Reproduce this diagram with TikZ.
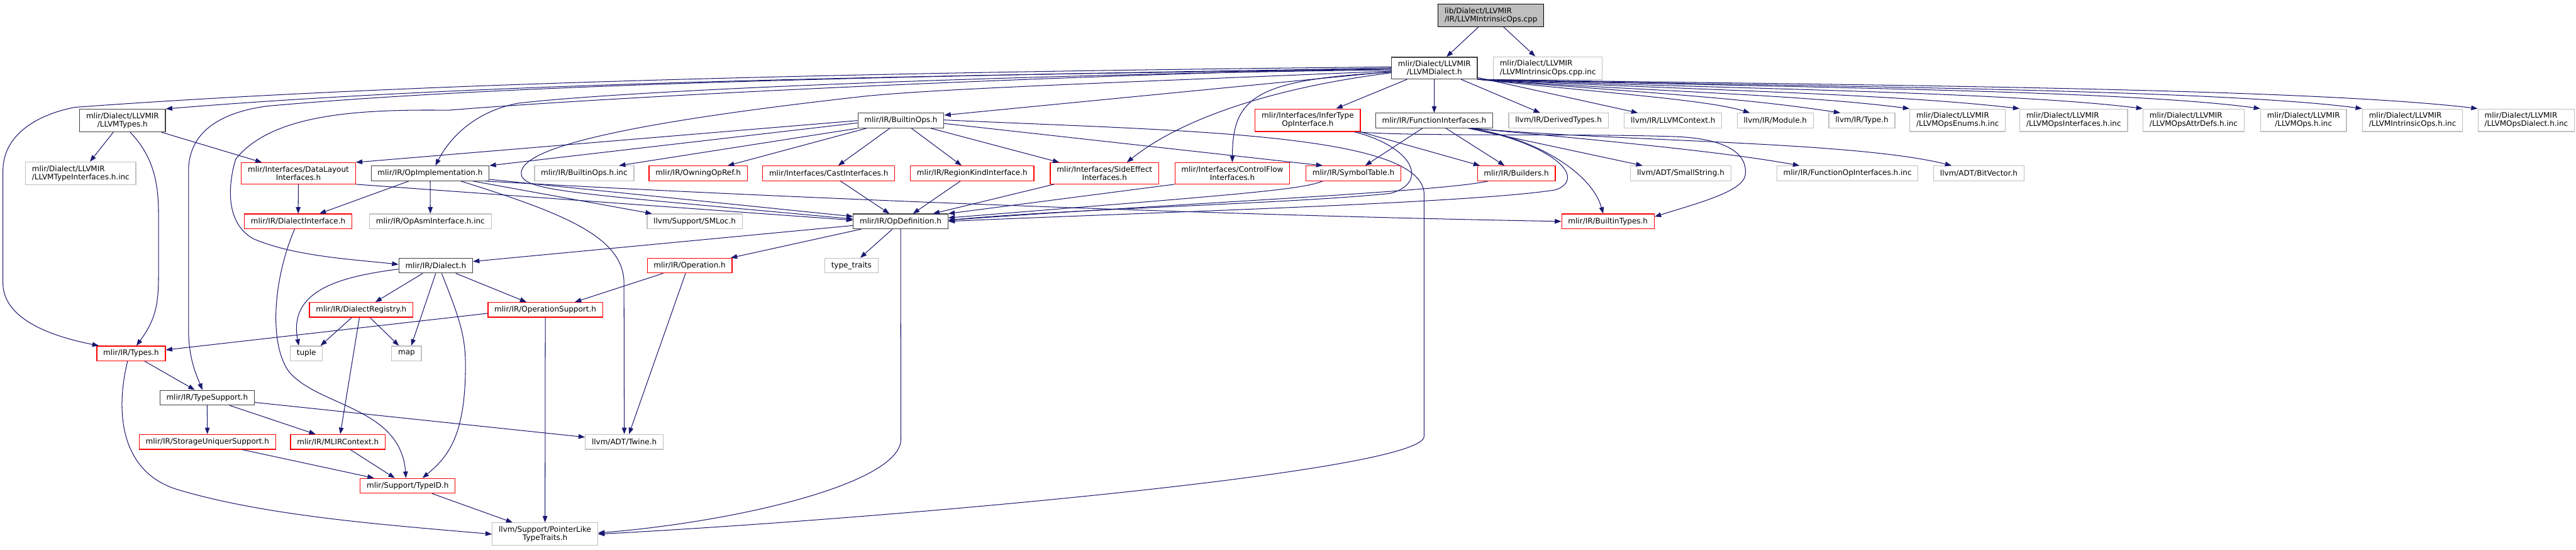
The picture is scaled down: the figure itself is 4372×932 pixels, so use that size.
\documentclass[tikz,border=0pt]{standalone}
\usepackage{fontspec}
\setmainfont{DejaVu Sans}
\usepackage{xcolor}
\usepackage{tikz}
\usetikzlibrary{arrows.meta}
\definecolor{midnight}{HTML}{191970}
\definecolor{grey25}{HTML}{404040}
\definecolor{grey75}{HTML}{BFBFBF}

\begin{document}
\begin{tikzpicture}[
    x=1pt,
    y=1pt,
    file/.style={rectangle, draw, fill=white, inner xsep=11pt, inner ysep=6pt,
                 minimum height=25pt, align=center, line width=1.3pt,
                 font=\fontsize{12.8}{14}\selectfont},
    hdr/.style={file, draw=grey25},
    leaf/.style={file, draw=grey75},
    trunc/.style={file, draw=red},
    root/.style={file, draw=black, fill=grey75},
    incl/.style={-{Triangle[length=11pt, width=8pt]}, line width=1.1pt,
                 color=midnight},
]
\useasboundingbox (0,0) rectangle (4372,-932);
\fill[white] (0,0) rectangle (4372,-932);

% files
\node[root, align=left] (top)     at (2530.5,-26)  {lib/Dialect/LLVMIR\\/IR/LLVMIntrinsicOps.cpp};
\node[hdr]              (dial)    at (2434.5,-115.5) {mlir/Dialect/LLVMIR\\/LLVMDialect.h};
\node[leaf, align=left] (cppinc)  at (2627,-115.5) {mlir/Dialect/LLVMIR\\/LLVMIntrinsicOps.cpp.inc};

\node[hdr]              (ltypes)  at (208,-204.5)  {mlir/Dialect/LLVMIR\\/LLVMTypes.h};
\node[hdr]              (bops)    at (1529,-204.5) {mlir/IR/BuiltinOps.h};
\node[trunc]            (infer)   at (2219.5,-204) {mlir/Interfaces/InferType\\OpInterface.h};
\node[hdr]              (funcif)  at (2434,-204.5) {mlir/IR/FunctionInterfaces.h};
\node[leaf]             (derived) at (2645,-204.5) {llvm/IR/DerivedTypes.h};
\node[leaf]             (llctx)   at (2839.5,-204.5) {llvm/IR/LLVMContext.h};
\node[leaf]             (module)  at (3013,-204.5) {llvm/IR/Module.h};
\node[leaf]             (type)    at (3160,-204.5) {llvm/IR/Type.h};
\node[leaf, align=left] (enums)   at (3322.5,-204) {mlir/Dialect/LLVMIR\\/LLVMOpsEnums.h.inc};
\node[leaf, align=left] (opsif)   at (3519.5,-204) {mlir/Dialect/LLVMIR\\/LLVMOpsInterfaces.h.inc};
\node[leaf, align=left] (attrdefs) at (3723,-204)  {mlir/Dialect/LLVMIR\\/LLVMOpsAttrDefs.h.inc};
\node[leaf]             (opsinc)  at (3909.5,-204) {mlir/Dialect/LLVMIR\\/LLVMOps.h.inc};
\node[leaf, align=left] (intrinc) at (4094.5,-204) {mlir/Dialect/LLVMIR\\/LLVMIntrinsicOps.h.inc};
\node[leaf, align=left] (dialinc) at (4287.5,-204) {mlir/Dialect/LLVMIR\\/LLVMOpsDialect.h.inc};

\node[leaf, align=left] (ltyinc)  at (137,-294)    {mlir/Dialect/LLVMIR\\/LLVMTypeInterfaces.h.inc};
\node[trunc]            (dlayout) at (506.5,-294)  {mlir/Interfaces/DataLayout\\Interfaces.h};
\node[hdr]              (opimpl)  at (730,-294)    {mlir/IR/OpImplementation.h};
\node[leaf]             (bopsinc) at (991.5,-294)  {mlir/IR/BuiltinOps.h.inc};
\node[trunc]            (owning)  at (1185,-294)   {mlir/IR/OwningOpRef.h};
\node[trunc]            (cast)    at (1406.5,-294) {mlir/Interfaces/CastInterfaces.h};
\node[trunc]            (region)  at (1650,-294)   {mlir/IR/RegionKindInterface.h};
\node[trunc]            (sideeff) at (1874.5,-294) {mlir/Interfaces/SideEffect\\Interfaces.h};
\node[trunc]            (ctrlflow) at (2091.5,-294) {mlir/Interfaces/ControlFlow\\Interfaces.h};
\node[trunc]            (symtab)  at (2297,-294)   {mlir/IR/SymbolTable.h};
\node[trunc]            (builders) at (2573.5,-294) {mlir/IR/Builders.h};
\node[leaf]             (smallstr) at (2852.5,-294) {llvm/ADT/SmallString.h};
\node[leaf]             (funcopinc) at (3135.5,-294) {mlir/IR/FunctionOpInterfaces.h.inc};
\node[leaf]             (bitvec)  at (3358.5,-294) {llvm/ADT/BitVector.h};

\node[trunc]            (diaif)   at (506,-375.5)  {mlir/IR/DialectInterface.h};
\node[leaf]             (opasm)   at (730.5,-375.5) {mlir/IR/OpAsmInterface.h.inc};
\node[leaf]             (smloc)   at (1179,-375.5) {llvm/Support/SMLoc.h};
\node[hdr]              (opdef)   at (1528.5,-375.5) {mlir/IR/OpDefinition.h};
\node[trunc]            (btypes)  at (2729,-375.5) {mlir/IR/BuiltinTypes.h};

\node[hdr]              (dialect) at (739.5,-450.5) {mlir/IR/Dialect.h};
\node[trunc]            (operation) at (1170.5,-450.5) {mlir/IR/Operation.h};
\node[leaf]             (ttraits) at (1445,-450.5) {type\_traits};

\node[trunc]            (registry) at (613,-525.5) {mlir/IR/DialectRegistry.h};
\node[trunc]            (opsupp)  at (925.5,-525.5) {mlir/IR/OperationSupport.h};
\node[trunc]            (types)   at (222.5,-599.5) {mlir/IR/Types.h};
\node[leaf]             (tuple)   at (520,-599.5)  {tuple};
\node[leaf]             (map)     at (690,-599.5)  {map};
\node[hdr]              (tsupp)   at (351.5,-674.5) {mlir/IR/TypeSupport.h};
\node[trunc]            (storage) at (352,-749.5)  {mlir/IR/StorageUniquerSupport.h};
\node[trunc]            (mlirctx) at (573.5,-749.5) {mlir/IR/MLIRContext.h};
\node[leaf]             (twine)   at (1059.5,-749.5) {llvm/ADT/Twine.h};
\node[trunc]            (typeid)  at (692,-824)    {mlir/Support/TypeID.h};
\node[leaf]             (ptrlike) at (925,-906)    {llvm/Support/PointerLike\\TypeTraits.h};

% root
\draw[incl] (top) -- (dial);
\draw[incl] (top) -- (cppinc);

% LLVMDialect.h, leftwards
\draw[incl] ([yshift=-2pt]dial.west) .. controls (1500,-128) and (800,-142) .. (ltypes.north east);
\draw[incl] ([yshift=2pt]dial.west) .. controls (1500,-122) and (700,-140) .. (127,-182)
    .. controls (60,-195) and (5,-230) .. (5,-290) -- (5,-480)
    .. controls (5,-530) and (60,-565) .. ([xshift=4pt]types.north west);
\draw[incl] (dial.west) .. controls (1600,-128) and (900,-140) .. (453,-180)
    .. controls (380,-190) and (320,-220) .. (320,-290) -- (320,-560)
    .. controls (320,-610) and (335,-640) .. ([xshift=-8pt]tsupp.north);
\draw[incl] (dial.west) .. controls (1800,-128) and (1100,-160) .. (760,-187)
    .. controls (600,-185) and (460,-195) .. (400,-270)
    .. controls (385,-320) and (385,-380) .. (430,-405)
    .. controls (500,-435) and (600,-440) .. ([yshift=2pt]dialect.west);
\draw[incl] ([yshift=-3pt]dial.west) .. controls (1800,-125) and (1100,-150) .. (880,-175)
    .. controls (800,-190) and (760,-240) .. ([xshift=9pt]opimpl.north);
\draw[incl] ([yshift=-5pt]dial.west) .. controls (1900,-140) and (1600,-150) .. (1470,-163)
    .. controls (1000,-215) and (870,-260) .. (886,-300)
    .. controls (900,-325) and (1000,-330) .. ([yshift=4pt]opdef.west);
\draw[incl] ([yshift=-6pt]dial.west) -- ([yshift=-4pt]bops.north east);
\draw[incl] ([yshift=-8pt]dial.west) .. controls (2150,-150) and (2000,-205) .. ([xshift=38pt]sideeff.north);
\draw[incl] ([yshift=-7pt]dial.west) .. controls (2130,-135) and (2092,-165) .. (ctrlflow.north);
\draw[incl] (dial) -- (infer);
\draw[incl] (dial) -- (funcif);
\draw[incl] (dial) -- (derived);
\draw[incl] (dial) -- (llctx);

% LLVMDialect.h, generated and llvm headers
\draw[incl] (dial.south east) .. controls (2750,-160) and (2900,-170) .. ([xshift=22pt]module.north west);
\draw[incl] (dial.south east) .. controls (2800,-158) and (2950,-165) .. ([xshift=20pt]type.north west);
\draw[incl] (dial.south east) .. controls (2800,-155) and (3050,-160) .. (enums.north west);
\draw[incl] (dial.south east) .. controls (2850,-152) and (3200,-158) .. (opsif.north west);
\draw[incl] (dial.south east) .. controls (2900,-150) and (3400,-155) .. (attrdefs.north west);
\draw[incl] (dial.south east) .. controls (3000,-148) and (3600,-152) .. (opsinc.north west);
\draw[incl] (dial.south east) .. controls (3000,-146) and (3750,-150) .. (intrinc.north west);
\draw[incl] (dial.south east) .. controls (3100,-144) and (3900,-148) .. (dialinc.north west);

% LLVMTypes.h
\draw[incl] (ltypes) -- (ltyinc);
\draw[incl] (ltypes) -- (dlayout);
\draw[incl] ([xshift=13pt]ltypes.south) .. controls (255,-260) and (269,-300) .. (269,-360)
    -- (269,-470) .. controls (269,-520) and (262,-545) .. ([xshift=9pt]types.north);

% BuiltinOps.h
\draw[incl] (bops.west) -- (dlayout.north east);
\draw[incl] ([yshift=-4pt]bops.west) -- (opimpl.north east);
\draw[incl] (bops.south west) -- ([xshift=-26pt]bopsinc.north east);
\draw[incl] ([xshift=15pt]bops.south west) -- ([xshift=-34pt]owning.north east);
\draw[incl] ([xshift=-19pt]bops.south) -- ([xshift=16pt]cast.north);
\draw[incl] ([xshift=18pt]bops.south) -- ([xshift=-18pt]region.north);
\draw[incl] ([xshift=51pt]bops.south) -- ([xshift=16pt]sideeff.north west);
\draw[incl] ([yshift=-5pt]bops.east) -- ([xshift=29pt]symtab.north west);
\draw[incl] ([yshift=1pt]bops.east) .. controls (2000,-222) and (2417,-225) .. (2417,-330)
    -- (2417,-740) .. controls (2417,-800) and (1500,-880) .. (ptrlike.east);

% InferTypeOpInterface.h
\draw[incl] (infer.south east) -- ([xshift=5pt]builders.north west);
\draw[incl] ([xshift=-10pt]infer.south east) .. controls (2400,-250) and (2425,-310) .. (2360,-328)
    .. controls (2200,-345) and (1800,-355) .. ([yshift=2pt]opdef.east);
\draw[incl] ([xshift=-4pt]infer.south east) .. controls (2400,-232) and (2700,-226) .. (2850,-232)
    .. controls (2955,-238) and (2965,-275) .. (2962,-297)
    .. controls (2958,-325) and (2880,-345) .. ([yshift=8pt]btypes.east);

% FunctionInterfaces.h
\draw[incl] ([xshift=-20pt]funcif.south) -- ([xshift=20pt]symtab.north);
\draw[incl] ([xshift=20pt]funcif.south) -- ([xshift=-20pt]builders.north);
\draw[incl] ([xshift=58pt]funcif.south) -- ([xshift=21pt]smallstr.north west);
\draw[incl] ([xshift=-38pt]funcif.south east) .. controls (2800,-245) and (2950,-262) .. ([xshift=39pt]funcopinc.north west);
\draw[incl] ([xshift=-36pt]funcif.south east) .. controls (2750,-240) and (3150,-240) .. ([xshift=31pt]bitvec.north west);
\draw[incl] ([xshift=-40pt]funcif.south east) .. controls (2600,-232) and (2700,-290) .. ([xshift=-8pt]btypes.north);
\draw[incl] ([xshift=-34pt]funcif.south east) .. controls (2650,-250) and (2690,-305) .. (2640,-322)
    .. controls (2500,-345) and (1900,-362) .. (opdef.east);

% into OpDefinition.h
\draw[incl] ([xshift=29pt]symtab.south west) .. controls (2210,-322) and (2100,-330) .. ([yshift=6pt]opdef.east);
\draw[incl] ([xshift=-48pt]builders.south) .. controls (2450,-325) and (2000,-345) .. ([yshift=2pt]opdef.east);
\draw[incl] ([xshift=7pt]sideeff.south west) -- ([xshift=55pt]opdef.north);
\draw[incl] (ctrlflow.south west) -- (opdef.north east);
\draw[incl] ([xshift=-20pt]region.south) -- ([xshift=21pt]opdef.north);
\draw[incl] ([xshift=20pt]cast.south) -- ([xshift=-19pt]opdef.north);

% DataLayoutInterfaces.h, OpImplementation.h
\draw[incl] (dlayout) -- (diaif);
\draw[incl] (dlayout.south east) -- ([yshift=2pt]opdef.west);
\draw[incl] (opimpl) -- (diaif);
\draw[incl] (opimpl) -- (opasm);
\draw[incl] (opimpl) -- (smloc);
\draw[incl] (opimpl) -- (opdef);
\draw[incl] ([xshift=52pt]opimpl.south) .. controls (950,-360) and (1059,-400) .. (1059,-480) -- (twine.north);
\draw[incl] ([xshift=-7pt]opimpl.south east) .. controls (1300,-335) and (2100,-366) .. (btypes.west);

% OpDefinition.h
\draw[incl] ([yshift=-7pt]opdef.west) -- ([yshift=7pt]dialect.east);
\draw[incl] ([xshift=14pt]opdef.south west) -- ([xshift=-3pt]operation.north east);
\draw[incl] ([xshift=-14pt]opdef.south) -- ([xshift=15pt]ttraits.north);
\draw[incl] (opdef.south) -- (1529,-745) .. controls (1529,-820) and (1250,-885) .. ([yshift=2pt]ptrlike.east);

% Dialect.h, DialectInterface.h
\draw[incl] ([xshift=-22pt]dialect.south) -- ([xshift=24pt]registry.north);
\draw[incl] ([yshift=-6pt]dialect.west) .. controls (570,-470) and (490,-495) .. ([xshift=-13pt]tuple.north);
\draw[incl] (dialect.south) -- ([xshift=8pt]map.north);
\draw[incl] ([xshift=34pt]dialect.south) -- ([xshift=-32pt]opsupp.north);
\draw[incl] ([xshift=10pt]dialect.south) .. controls (780,-540) and (790,-570) .. (790,-620)
    .. controls (790,-740) and (760,-775) .. ([xshift=25pt]typeid.north);
\draw[incl] ([xshift=-6pt]diaif.south) .. controls (465,-470) and (455,-580) .. (490,-630)
    .. controls (540,-690) and (680,-690) .. ([xshift=-3pt]typeid.north);

% DialectRegistry.h, Operation.h, OperationSupport.h
\draw[incl] ([xshift=-16pt]registry.south) -- ([xshift=-4pt]tuple.north east);
\draw[incl] ([xshift=15pt]registry.south) -- ([xshift=-13pt]map.north);
\draw[incl] ([xshift=-3pt]registry.south) -- ([xshift=4pt]mlirctx.north);
\draw[incl] ([xshift=-45pt]operation.south) -- ([xshift=50pt]opsupp.north);
\draw[incl] ([xshift=-7pt]operation.south) -- ([xshift=8pt]twine.north);
\draw[incl] ([yshift=-6pt]opsupp.west) -- ([yshift=6pt]types.east);
\draw[incl] (opsupp) -- (ptrlike);

% Types.h, TypeSupport.h and below
\draw[incl] ([xshift=23pt]types.south) -- ([xshift=-21pt]tsupp.north);
\draw[incl] ([xshift=-6pt]types.south) .. controls (195,-700) and (205,-800) .. (300,-830)
    .. controls (450,-875) and (650,-890) .. (ptrlike.west);
\draw[incl] (tsupp) -- (storage);
\draw[incl] ([xshift=38pt]tsupp.south) -- ([xshift=-38pt]mlirctx.north);
\draw[incl] ([yshift=-8pt]tsupp.east) -- ([yshift=8pt]twine.west);
\draw[incl] ([xshift=59pt]storage.south) -- ([xshift=24pt]typeid.north west);
\draw[incl] ([xshift=21pt]mlirctx.south) -- ([xshift=-22pt]typeid.north);
\draw[incl] ([xshift=-40pt]typeid.south east) -- ([xshift=35pt]ptrlike.north west);
\end{tikzpicture}
\end{document}
